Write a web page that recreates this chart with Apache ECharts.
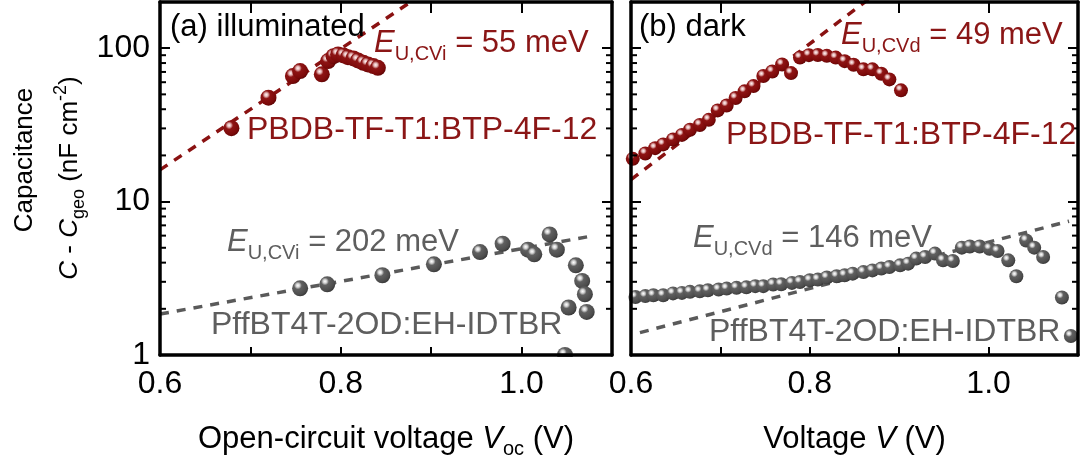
<!DOCTYPE html>
<html>
<head>
<meta charset="utf-8">
<script src="https://cdn.jsdelivr.net/npm/echarts@6/dist/echarts.min.js"></script>
<style>
  html, body { margin: 0; padding: 0; background: #fff; }
  #chart { width: 1083px; height: 461px; }
</style>
</head>
<body>
<div id="chart"></div>
<script>
// ---- data: [voltage (V), C - Cgeo (nF cm^-2)] ----
// (a) illuminated, open-circuit voltage sweep
const illumPBDB = [
  [0.679, 30.1], [0.720, 47.6], [0.747, 65.8], [0.755, 70.9], [0.779, 67.5],
  [0.786, 82.4], [0.792, 88.7], [0.797, 91.0], [0.803, 89.7], [0.808, 87.4],
  [0.814, 85.8], [0.819, 83.2], [0.825, 80.3], [0.830, 78.4], [0.836, 76.4],
  [0.841, 74.5]
];
const illumPff = [
  [0.755, 2.72], [0.785, 2.89], [0.846, 3.31], [0.903, 3.90], [0.954, 4.69],
  [0.979, 5.31], [1.007, 4.86], [1.014, 4.53], [1.031, 6.11], [1.039, 4.86],
  [1.060, 3.84], [1.067, 3.04], [1.070, 2.49], [1.052, 2.04], [1.072, 1.91],
  [1.048, 1.00]
];
// Urbach-energy fits (straight lines on the log scale)
const illumPBDBFit = [[0.60, 16.1], [0.88, 205]];
const illumPffFit = [[0.60, 1.85], [1.08, 6.0]];

// (b) dark, applied voltage sweep
const darkPBDB = [
  [0.602, 19.0], [0.616, 20.6], [0.627, 22.3], [0.636, 23.6], [0.647, 25.4],
  [0.657, 27.2], [0.666, 29.4], [0.677, 31.6], [0.687, 34.1], [0.697, 39.3],
  [0.707, 42.3], [0.717, 47.3], [0.727, 52.3], [0.737, 56.6], [0.748, 65.8],
  [0.758, 70.4], [0.769, 78.3], [0.779, 68.8], [0.789, 86.8], [0.799, 90.1],
  [0.809, 90.3], [0.819, 89.1], [0.829, 86.8], [0.839, 82.3], [0.849, 77.9],
  [0.860, 72.8], [0.870, 72.8], [0.880, 68.1], [0.889, 62.6], [0.902, 53.1]
];
const darkPff = [
  [0.605, 2.39], [0.616, 2.42], [0.625, 2.45], [0.636, 2.45], [0.647, 2.52],
  [0.657, 2.54], [0.666, 2.58], [0.677, 2.60], [0.686, 2.64], [0.698, 2.67],
  [0.707, 2.71], [0.718, 2.74], [0.729, 2.76], [0.739, 2.81], [0.748, 2.81],
  [0.759, 2.88], [0.768, 2.89], [0.780, 2.95], [0.789, 2.99], [0.800, 3.07],
  [0.809, 3.10], [0.819, 3.20], [0.830, 3.26], [0.839, 3.31], [0.848, 3.39],
  [0.860, 3.47], [0.870, 3.56], [0.880, 3.66], [0.889, 3.74], [0.901, 3.84],
  [0.910, 3.94], [0.919, 4.25], [0.929, 4.35], [0.940, 4.58], [0.949, 4.14],
  [0.960, 4.10], [0.970, 5.01], [0.979, 5.10], [0.990, 5.10], [1.001, 4.93],
  [1.010, 4.76], [1.022, 4.14], [1.031, 3.26], [1.042, 5.58], [1.051, 5.01],
  [1.061, 4.35], [1.082, 2.37], [1.092, 1.33]
];
const darkPBDBFit = [[0.60, 13.9], [0.87, 218]];
const darkPffFit = [[0.61, 1.40], [1.09, 7.45]];

// ---- axis ticks ----
const xTickLabels = ['0.6', '0.8', '1.0'];
const yTickLabels = ['1', '10', '100'];
const yMinorTicks = [2, 3, 4, 5, 6, 7, 8, 9, 20, 30, 40, 50, 60, 70, 80, 90];

// ---- styling ----
const FONT = '"Liberation Sans", Arial, sans-serif';
const RED = '#8a1212';
const RED_TEXT = '#8b1616';
const GRAY = '#5a5a5a';
const GRAY_TEXT = '#5e5e5e';

const redBall = new echarts.graphic.RadialGradient(0.36, 0.32, 0.72, [
  { offset: 0, color: '#fff4f4' },
  { offset: 0.16, color: '#e3b4b4' },
  { offset: 0.34, color: '#8e1414' },
  { offset: 0.8, color: '#7c0a0a' },
  { offset: 1, color: '#5c0404' }
]);
const grayBall = new echarts.graphic.RadialGradient(0.36, 0.32, 0.72, [
  { offset: 0, color: '#ffffff' },
  { offset: 0.16, color: '#d2d2d2' },
  { offset: 0.34, color: '#606060' },
  { offset: 0.8, color: '#4c4c4c' },
  { offset: 1, color: '#353535' }
]);

const gridBase = { top: 2, height: 353, containLabel: false, outerBoundsMode: 'none' };
const grids = [
  Object.assign({ left: 160, width: 452 }, gridBase),
  Object.assign({ left: 631, width: 447 }, gridBase)
];

function xAxisPair(gridIndex, title) {
  const base = {
    gridIndex, type: 'value', min: 0.6, max: 1.1, interval: 0.1, z: 6,
    axisLine: { show: true, lineStyle: { color: '#000', width: 3.5 } },
    splitLine: { show: false }
  };
  return [
    Object.assign({}, base, {
      position: 'bottom',
      axisTick: { inside: true, length: 8, lineStyle: { color: '#000', width: 2 } },
      axisLabel: {
        margin: 13, fontFamily: FONT, fontSize: 32, color: '#000',
        formatter: v => { const s = v.toFixed(1); return xTickLabels.includes(s) ? s : ''; }
      },
      name: title, nameLocation: 'middle', nameGap: 64,
      nameTextStyle: {
        fontFamily: FONT, fontSize: 31, color: '#000',
        rich: {
          i: { fontFamily: FONT, fontSize: 31, fontStyle: 'italic', lineHeight: 40 },
          s: { fontFamily: FONT, fontSize: 20, lineHeight: 20, verticalAlign: 'bottom' },
          n: { fontFamily: FONT, fontSize: 31, lineHeight: 40 }
        }
      }
    }),
    Object.assign({}, base, {
      position: 'top',
      axisTick: { inside: true, length: 11, lineStyle: { color: '#000', width: 2 } },
      axisLabel: { show: false }
    })
  ];
}

function yAxisPair(gridIndex, showLabels) {
  const base = {
    gridIndex, type: 'log', logBase: 10, min: 1, max: 200, z: 6,
    axisLine: { show: true, lineStyle: { color: '#000', width: 3.5 } },
    axisTick: { inside: true, length: 10, lineStyle: { color: '#000', width: 2 } },
    splitLine: { show: false }, minorTick: { show: false }
  };
  return [
    Object.assign({}, base, {
      position: 'left',
      axisLabel: {
        show: showLabels, margin: 10, fontFamily: FONT, fontSize: 32, color: '#000',
        showMaxLabel: false,
        formatter: v => { const s = String(Math.round(v)); return yTickLabels.includes(s) ? s : ''; }
      }
    }),
    Object.assign({}, base, { position: 'right', axisLabel: { show: false } })
  ];
}

// short inward minor ticks on both vertical frame edges
function minorTickSeries(xAxisIndex, yAxisIndex) {
  return {
    type: 'custom', xAxisIndex, yAxisIndex, z: 7, silent: true,
    data: yMinorTicks.map(v => [0.6, v]),
    renderItem: (params, api) => {
      const y = api.coord([0.6, api.value(1)])[1];
      const r = params.coordSys;
      const st = { stroke: '#000', lineWidth: 2 };
      return {
        type: 'group',
        children: [
          { type: 'line', shape: { x1: r.x, y1: y, x2: r.x + 6, y2: y }, style: st },
          { type: 'line', shape: { x1: r.x + r.width, y1: y, x2: r.x + r.width - 6, y2: y }, style: st }
        ]
      };
    }
  };
}

function balls(data, xi, yi, fill, size) {
  return {
    type: 'scatter', xAxisIndex: xi, yAxisIndex: yi, data, z: 3,
    symbol: 'circle', symbolSize: size,
    itemStyle: { color: fill, opacity: 1 }
  };
}
function fitLine(data, xi, yi, color) {
  return {
    type: 'line', xAxisIndex: xi, yAxisIndex: yi, data, z: 2,
    symbol: 'none', clip: true, silent: true,
    lineStyle: { color, width: 3.5, type: [9, 8] }
  };
}

// rich-text annotations: E in italics with a lowered subscript
function label(x, y, text, fill, size) {
  const sub = Math.round(size * 0.66);
  return {
    type: 'text', x, y, z: 8, silent: true,
    style: {
      text, fill, fontFamily: FONT, fontSize: size,
      align: 'left', verticalAlign: 'middle',
      rich: {
        n: { fontFamily: FONT, fontSize: size, lineHeight: Math.round(size * 1.37) },
        e: { fontFamily: FONT, fontSize: size, lineHeight: Math.round(size * 1.37), fontStyle: 'italic' },
        s: { fontFamily: FONT, fontSize: sub, lineHeight: sub, verticalAlign: 'bottom' }
      }
    }
  };
}

const chart = echarts.init(document.getElementById('chart'), null, { renderer: 'canvas' });

chart.setOption({
  animation: false,
  backgroundColor: '#fff',
  grid: grids,
  xAxis: [
    ...xAxisPair(0, '{n|Open-circuit voltage }{i|V}{s|oc}{n| (V)}'),
    ...xAxisPair(1, '{n|Voltage }{i|V}{n| (V)}')
  ],
  yAxis: [...yAxisPair(0, true), ...yAxisPair(1, false)],
  series: [
    fitLine(illumPBDBFit, 0, 0, RED),
    fitLine(illumPffFit, 0, 0, GRAY),
    balls(illumPff, 0, 0, grayBall, 16),
    balls(illumPBDB, 0, 0, redBall, 16),
    minorTickSeries(0, 0),
    fitLine(darkPBDBFit, 2, 2, RED),
    fitLine(darkPffFit, 2, 2, GRAY),
    balls(darkPff, 2, 2, grayBall, 14),
    balls(darkPBDB, 2, 2, redBall, 14),
    minorTickSeries(2, 2)
  ],
  graphic: [
    // keep the ball sitting on the lower frame from spilling below it
    { type: 'rect', z: 4, silent: true, shape: { x: 150, y: 357, width: 933, height: 10 }, style: { fill: '#fff' } },
    // y-axis title (two rotated lines)
    {
      type: 'text', x: 25, y: 160, rotation: Math.PI / 2, silent: true,
      style: { text: 'Capacitance', fill: '#000', fontFamily: FONT, fontSize: 26, align: 'center', verticalAlign: 'middle' }
    },
    {
      type: 'text', x: 70, y: 178, rotation: Math.PI / 2, silent: true,
      style: {
        text: '{i|C}{n| - }{i|C}{s|geo}{n| (nF cm}{p|-2}{n|)}',
        fill: '#000', fontFamily: FONT, fontSize: 26, align: 'center', verticalAlign: 'middle',
        rich: {
          n: { fontFamily: FONT, fontSize: 26, lineHeight: 36 },
          i: { fontFamily: FONT, fontSize: 26, lineHeight: 36, fontStyle: 'italic' },
          s: { fontFamily: FONT, fontSize: 18, lineHeight: 18, verticalAlign: 'bottom' },
          p: { fontFamily: FONT, fontSize: 18, lineHeight: 18, verticalAlign: 'top' }
        }
      }
    },
    // panel (a)
    label(170, 27, '(a) illuminated', '#000', 31),
    label(374, 43, '{e|E}{s|U,CVi}{n| = 55 meV}', RED_TEXT, 31),
    label(247, 130, 'PBDB-TF-T1:BTP-4F-12', RED_TEXT, 32),
    label(227, 242, '{e|E}{s|U,CVi}{n| = 202 meV}', GRAY_TEXT, 31),
    label(211, 325, 'PffBT4T-2OD:EH-IDTBR', GRAY_TEXT, 32),
    // panel (b)
    label(639, 27, '(b) dark', '#000', 31),
    label(841, 35, '{e|E}{s|U,CVd}{n| = 49 meV}', RED_TEXT, 31),
    label(726, 135, 'PBDB-TF-T1:BTP-4F-12', RED_TEXT, 32),
    label(693, 238, '{e|E}{s|U,CVd}{n| = 146 meV}', GRAY_TEXT, 31),
    label(709, 332, 'PffBT4T-2OD:EH-IDTBR', GRAY_TEXT, 32)
  ]
});
</script>
</body>
</html>
